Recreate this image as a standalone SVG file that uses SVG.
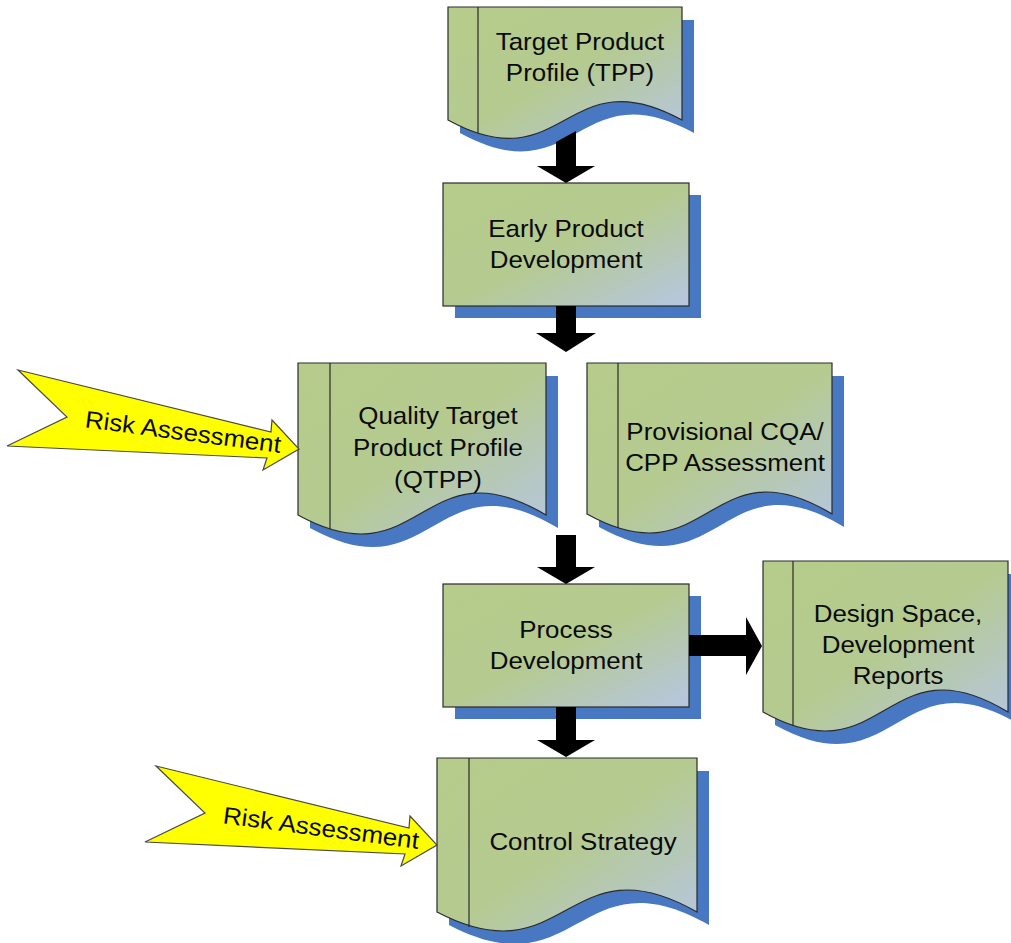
<svg xmlns="http://www.w3.org/2000/svg" xmlns:xlink="http://www.w3.org/1999/xlink" width="1011" height="943" viewBox="0 0 1011 943">
<style>
.body{fill:url(#g);stroke:#2a2a2a;stroke-width:1.2}
.shadow{fill:#4878c2}
.inner{stroke:#2a2a2a;stroke-width:1.2;fill:none}
.lbl{font-family:"Liberation Sans",Arial,sans-serif;font-size:24px;fill:#0a0a0a;text-anchor:middle}
.blk{fill:#000}
.risk{fill:#ffff00;stroke:#4a4a4a;stroke-width:1.2}
</style>
<defs>
<linearGradient id="g" x1="0" y1="0" x2="1" y2="1">
<stop offset="0" stop-color="#b6cc8a"/>
<stop offset="0.5" stop-color="#b5ca90"/>
<stop offset="1" stop-color="#b6c6e2"/>
</linearGradient>
<path id="d-tpp" d="M448,7 H682 V120 C565,56 565,184 448,120 Z"/>
<path id="d-qtpp" d="M298,363 H546 V515 C422,441 422,583 298,515 Z"/>
<path id="d-prov" d="M587,363 H832 V514 C709.5,440 709.5,582 587,514 Z"/>
<path id="d-ds" d="M763,561 H1008 V712 C885.5,638 885.5,780 763,712 Z"/>
<path id="d-cs" d="M437,758 H697 V912 C567,838 567,980 437,912 Z"/>
</defs>
<rect width="1011" height="943" fill="#fff"/>

<g id="tpp">
<use xlink:href="#d-tpp" href="#d-tpp" class="shadow" transform="translate(12,13)"/>
<use xlink:href="#d-tpp" href="#d-tpp" class="body"/>
<line class="inner" x1="478" y1="7" x2="478" y2="133"/>
<g transform="translate(580,0) scale(1.08,1)">
<text class="lbl" x="0" y="50">Target Product</text>
<text class="lbl" x="0" y="81">Profile (TPP)</text>
</g>
</g>

<g id="epd">
<rect class="shadow" x="455" y="195" width="246" height="123"/>
<rect class="body" x="443" y="183" width="246" height="123"/>
<g transform="translate(566,0) scale(1.08,1)">
<text class="lbl" x="0" y="237">Early Product</text>
<text class="lbl" x="0" y="268">Development</text>
</g>
</g>

<g id="qtpp">
<use xlink:href="#d-qtpp" href="#d-qtpp" class="shadow" transform="translate(12,13)"/>
<use xlink:href="#d-qtpp" href="#d-qtpp" class="body"/>
<line class="inner" x1="330" y1="363" x2="330" y2="529"/>
<g transform="translate(438,0) scale(1.08,1)">
<text class="lbl" x="0" y="424">Quality Target</text>
<text class="lbl" x="0" y="456">Product Profile</text>
<text class="lbl" x="0" y="488">(QTPP)</text>
</g>
</g>

<g id="prov">
<use xlink:href="#d-prov" href="#d-prov" class="shadow" transform="translate(12,13)"/>
<use xlink:href="#d-prov" href="#d-prov" class="body"/>
<line class="inner" x1="618" y1="363" x2="618" y2="528"/>
<g transform="translate(725,0) scale(1.08,1)">
<text class="lbl" x="0" y="440">Provisional CQA/</text>
<text class="lbl" x="0" y="471">CPP Assessment</text>
</g>
</g>

<g id="pd">
<rect class="shadow" x="455" y="596" width="246" height="123"/>
<rect class="body" x="443" y="584" width="246" height="123"/>
<g transform="translate(566,0) scale(1.08,1)">
<text class="lbl" x="0" y="638">Process</text>
<text class="lbl" x="0" y="669">Development</text>
</g>
</g>

<g id="ds">
<use xlink:href="#d-ds" href="#d-ds" class="shadow" transform="translate(12,13)"/>
<use xlink:href="#d-ds" href="#d-ds" class="body"/>
<line class="inner" x1="793" y1="561" x2="793" y2="726"/>
<g transform="translate(898,0) scale(1.08,1)">
<text class="lbl" x="0" y="622">Design Space,</text>
<text class="lbl" x="0" y="653">Development</text>
<text class="lbl" x="0" y="684">Reports</text>
</g>
</g>

<g id="cs">
<use xlink:href="#d-cs" href="#d-cs" class="shadow" transform="translate(12,13)"/>
<use xlink:href="#d-cs" href="#d-cs" class="body"/>
<line class="inner" x1="469" y1="758" x2="469" y2="927"/>
<g transform="translate(583,0) scale(1.08,1)">
<text class="lbl" x="0" y="850">Control Strategy</text>
</g>
</g>

<g id="risk1">
<polygon class="risk" points="18,370 271,432 272,420 299,449 263,470 267,458 7,446 67,417"/>
<g transform="translate(182,440) rotate(7.5) scale(1.08,1)">
<text class="lbl" x="0" y="0">Risk Assessment</text>
</g>
</g>

<g id="risk2">
<g transform="translate(138,396)">
<polygon class="risk" points="18,370 271,432 272,420 299,449 263,470 267,458 7,446 67,417"/>
</g>
<g transform="translate(320,836) rotate(7.5) scale(1.08,1)">
<text class="lbl" x="0" y="0">Risk Assessment</text>
</g>
</g>

<g id="connectors">
<polygon class="blk" points="556,142 576,131 576,166 595,166 566,183 537,166 556,166"/>
<polygon class="blk" points="556,306 576,306 576,333 596,333 566,352 536,333 556,333"/>
<polygon class="blk" points="556,535 576,535 576,567 595,567 566,584 537,567 556,567"/>
<polygon class="blk" points="556,707 576,707 576,740 595,740 566,757 537,740 556,740"/>
<polygon class="blk" points="689,635 746,635 746,617 762,646 746,675 746,656 689,656"/>
</g>
</svg>
